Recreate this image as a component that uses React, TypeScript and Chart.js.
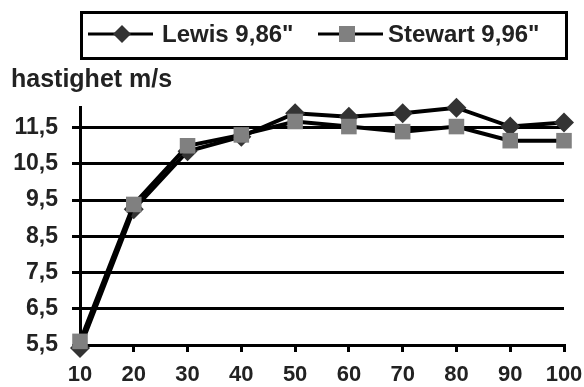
import React, { useEffect, useRef } from "react";
import { Chart, registerables } from "chart.js";

Chart.register(...registerables);

// Split times at every 10 m (m) and speed (m/s)
const distances = ["10", "20", "30", "40", "50", "60", "70", "80", "90", "100"];
const lewisSpeed = [5.42, 9.25, 10.85, 11.25, 11.9, 11.8, 11.9, 12.05, 11.53, 11.64];
const stewartSpeed = [5.6, 9.38, 11.0, 11.3, 11.67, 11.53, 11.39, 11.53, 11.14, 11.14];
const speedTicks = [5.5, 6.5, 7.5, 8.5, 9.5, 10.5, 11.5];

const lewisLabel = 'Lewis 9,86"';
const stewartLabel = 'Stewart 9,96"';
const yTitle = "hastighet m/s";

const FONT = "'Liberation Sans', Arial, sans-serif";
const TEXT = "#222";

// Boxed legend (line through marker) plus the horizontal axis title above the plot
const legendAndTitle = {
  id: "legendAndTitle",
  afterDraw(chart: any) {
    const ctx = chart.ctx as CanvasRenderingContext2D;
    ctx.save();

    ctx.lineWidth = 3;
    ctx.strokeStyle = "#000";
    ctx.strokeRect(81.5, 12.5, 485, 46);

    const items = [
      { ds: chart.data.datasets[1], lineFrom: 88, lineTo: 153, mark: 122, text: 162 },
      { ds: chart.data.datasets[0], lineFrom: 318, lineTo: 383, mark: 347, text: 388 },
    ];
    const cy = 34;
    for (const it of items) {
      ctx.beginPath();
      ctx.lineWidth = 3;
      ctx.strokeStyle = "#000";
      ctx.moveTo(it.lineFrom, cy);
      ctx.lineTo(it.lineTo, cy);
      ctx.stroke();
      ctx.fillStyle = it.ds.pointBackgroundColor;
      if (it.ds.pointStyle === "rectRot") {
        const r = 9;
        ctx.beginPath();
        ctx.moveTo(it.mark, cy - r);
        ctx.lineTo(it.mark + r, cy);
        ctx.lineTo(it.mark, cy + r);
        ctx.lineTo(it.mark - r, cy);
        ctx.closePath();
        ctx.fill();
      } else {
        ctx.fillRect(it.mark - 8, cy - 8, 16, 16);
      }
      ctx.fillStyle = TEXT;
      ctx.font = `bold 24px ${FONT}`;
      ctx.textAlign = "left";
      ctx.textBaseline = "middle";
      ctx.fillText(it.ds.label, it.text, cy + 1);
    }

    ctx.fillStyle = TEXT;
    ctx.font = `bold 25px ${FONT}`;
    ctx.textAlign = "left";
    ctx.textBaseline = "alphabetic";
    ctx.fillText(yTitle, 11, 87);
    ctx.restore();
  },
};

export default function App() {
  const canvasRef = useRef<HTMLCanvasElement | null>(null);

  useEffect(() => {
    if (!canvasRef.current) return;
    const chart = new Chart(canvasRef.current, {
      type: "line",
      data: {
        labels: distances,
        datasets: [
          {
            label: stewartLabel,
            data: stewartSpeed,
            borderColor: "#000",
            borderWidth: 4,
            pointStyle: "rect",
            pointRadius: 11,
            pointBackgroundColor: "#808080",
            pointBorderWidth: 0,
            tension: 0,
            clip: false,
            order: 1,
          },
          {
            label: lewisLabel,
            data: lewisSpeed,
            borderColor: "#000",
            borderWidth: 4,
            pointStyle: "rectRot",
            pointRadius: 10,
            pointBackgroundColor: "#333",
            pointBorderWidth: 0,
            tension: 0,
            clip: false,
            order: 2,
          },
        ],
      },
      options: {
        responsive: false,
        animation: false,
        layout: { padding: { top: 107, left: 0, right: 0, bottom: 0 } },
        plugins: {
          legend: { display: false },
          tooltip: { enabled: false },
          title: { display: false },
        },
        scales: {
          x: {
            type: "category",
            offset: false,
            afterFit: (s: any) => {
              s.height = 42;
              s.paddingLeft = 0;
              s.paddingRight = 20;
            },
            grid: {
              display: true,
              drawOnChartArea: false,
              drawTicks: true,
              tickLength: 7,
              lineWidth: 3,
              color: "#000",
            },
            border: { display: true, width: 3, color: "#000" },
            ticks: {
              color: TEXT,
              font: { family: FONT, size: 22, weight: "bold" },
              padding: 10,
              maxRotation: 0,
              autoSkip: false,
            },
          },
          y: {
            type: "linear",
            min: 5.5,
            max: 12.07,
            afterBuildTicks: (s: any) => {
              s.ticks = speedTicks.map((v) => ({ value: v }));
            },
            afterFit: (s: any) => {
              s.width = 80;
            },
            grid: {
              color: "#000",
              lineWidth: 3,
              tickLength: 8,
            },
            border: { display: true, width: 3, color: "#000" },
            ticks: {
              color: TEXT,
              font: { family: FONT, size: 23, weight: "bold" },
              padding: 14,
              callback: (v: any) => String(v).replace(".", ","),
            },
          },
        },
      },
      plugins: [legendAndTitle],
    });
    return () => chart.destroy();
  }, []);

  return (
    <div style={{ position: "absolute", left: 0, top: 0, width: 584, height: 387, background: "#fff" }}>
      <canvas ref={canvasRef} width={584} height={387} style={{ display: "block" }} />
    </div>
  );
}
